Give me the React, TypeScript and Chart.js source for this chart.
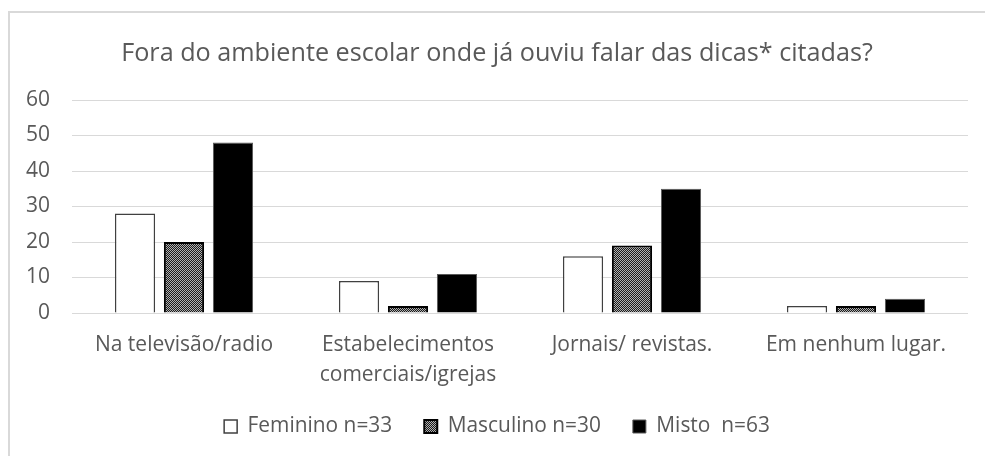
import React, { useEffect, useRef } from 'react';
import { Chart, registerables } from 'chart.js';
Chart.register(...registerables);

const titleText = 'Fora do ambiente escolar onde já ouviu falar das dicas* citadas?';
const categories: (string | string[])[] = [
  'Na televisão/radio',
  ['Estabelecimentos', 'comerciais/igrejas'],
  'Jornais/ revistas.',
  'Em nenhum lugar.',
];
const seriesNames = ['Feminino n=33', 'Masculino n=30', 'Misto  n=63'];
const feminino = [28, 9, 16, 2];
const masculino = [20, 2, 19, 2];
const misto = [48, 11, 35, 4];
const yMin = 0;
const yMax = 60;
const yStep = 10;

const FONT = '"Open Sans", sans-serif';
const TEXT = '#595959';
const GRID = '#d9d9d9';
const LEGEND_PAD = 32;
const CANVAS_H = 443;
const PLOT_BOTTOM = 300;

function makePattern(ctx: CanvasRenderingContext2D) {
  const c = document.createElement('canvas');
  c.width = 2;
  c.height = 2;
  const p = c.getContext('2d')!;
  p.fillStyle = '#b0b0b0';
  p.fillRect(0, 0, 2, 2);
  p.fillStyle = '#1a1a1a';
  p.fillRect(0, 0, 1, 1);
  p.fillRect(1, 1, 1, 1);
  return ctx.createPattern(c, 'repeat')!;
}

function fitSize(ctx: CanvasRenderingContext2D, text: string, target: number) {
  ctx.font = `100px ${FONT}`;
  const w = ctx.measureText(text).width;
  return Math.round((100 * target) / w * 10) / 10;
}

export default function App() {
  const ref = useRef<HTMLCanvasElement>(null);
  useEffect(() => {
    const canvas = ref.current!;
    const ctx = canvas.getContext('2d')!;
    const pattern = makePattern(ctx);
    const titleSize = fitSize(ctx, titleText, 752);
    const xSize = fitSize(ctx, 'comerciais/igrejas', 177);
    const ySize = fitSize(ctx, '60', 24);
    const legSize = fitSize(ctx, seriesNames[0], 145);
    const titleLH = titleSize * 1.2;
    const titleTop = 41 - titleLH / 2;
    const titleBottom = 87 - titleTop - titleLH;
    const xLineH = 30;
    const bottomPad = 19.5 - legSize / 2;
    const legendH = legSize + LEGEND_PAD + 10;
    const xAxisH = CANVAS_H - bottomPad - legendH - PLOT_BOTTOM;
    const common = { categoryPercentage: 0.656, barPercentage: 0.82 };
    const chart = new Chart(ctx, {
      type: 'bar',
      data: {
        labels: categories,
        datasets: [
          {
            label: seriesNames[0],
            data: feminino,
            backgroundColor: '#ffffff',
            borderColor: '#404040',
            borderWidth: 1.5,
            ...common,
          },
          {
            label: seriesNames[1],
            data: masculino,
            backgroundColor: pattern,
            borderColor: '#000000',
            borderWidth: 2,
            ...common,
          },
          {
            label: seriesNames[2],
            data: misto,
            backgroundColor: '#000000',
            borderColor: '#595959',
            borderWidth: 1,
            ...common,
          },
        ],
      },
      options: {
        responsive: false,
        animation: false,
        layout: { padding: { left: 16, right: 17, top: 0, bottom: bottomPad } },
        plugins: {
          tooltip: { enabled: false },
          title: {
            display: true,
            text: titleText,
            color: TEXT,
            font: { family: FONT, size: titleSize, weight: 'normal', lineHeight: 1.2 },
            padding: { top: titleTop, bottom: titleBottom },
          },
          legend: {
            position: 'bottom',
            labels: {
              color: TEXT,
              font: { family: FONT, size: legSize },
              boxWidth: 13,
              boxHeight: 13,
              padding: LEGEND_PAD,
            },
          },
        },
        scales: {
          x: {
            grid: { display: false, drawTicks: false },
            border: { display: false },
            ticks: {
              color: TEXT,
              font: { family: FONT, size: xSize, lineHeight: xLineH / xSize },
              mirror: true,
              padding: -(32 + xLineH / 2),
              maxRotation: 0,
              autoSkip: false,
            },
            afterFit: (s: any) => {
              s.height = xAxisH;
            },
          },
          y: {
            min: yMin,
            max: yMax,
            grid: { color: GRID, lineWidth: 1, drawTicks: false },
            border: { display: false },
            ticks: {
              stepSize: yStep,
              color: TEXT,
              font: { family: FONT, size: ySize },
              padding: 22,
            },
            afterFit: (s: any) => {
              s.width = 46;
            },
          },
        },
      },
    });
    return () => chart.destroy();
  }, []);
  return (
    <div
      style={{
        position: 'fixed',
        left: 8,
        top: 11,
        width: 977,
        height: 445,
        borderLeft: '2px solid #d9d9d9',
        borderTop: '2px solid #d9d9d9',
        boxSizing: 'border-box',
        overflow: 'hidden',
      }}
    >
      <canvas ref={ref} width={975} height={CANVAS_H} style={{ display: 'block' }} />
    </div>
  );
}
